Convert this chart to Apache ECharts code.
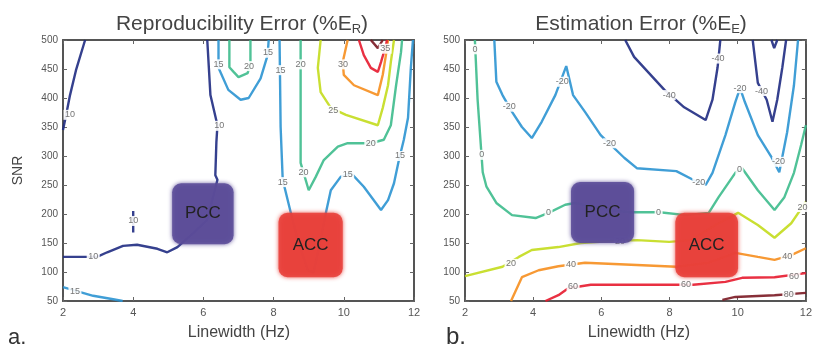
<!DOCTYPE html>
<html>
<head>
<meta charset="utf-8">
<script src="https://cdn.jsdelivr.net/npm/echarts@6/dist/echarts.min.js"></script>
<style>
html,body{margin:0;padding:0;background:#fff}
#chart{width:815px;height:347px}
</style>
</head>
<body>
<div id="chart"></div>
<script>
// contour lines, [linewidth Hz, SNR]
var repNavyA = [[2.63,500],[2.37,448],[2.2,405],[2.09,371],[2,345]];
var repNavyB = [[6.11,500],[6.2,405],[6.4,353],[6.37,324],[6.34,267],[6.4,259],[6.11,190],[5.71,167],[5.26,143],[4.97,134],[4.69,140],[4.11,147],[3.71,145],[3.26,134],[2.97,126],[2,126]];
var repNavyC = [[4,205],[4,168]];
var repBlueA = [[2,74],[2.86,59],[3.43,53],[3.7,50]];
var repBlueB = [[6.43,500],[6.43,452],[6.71,414],[7.06,397],[7.29,400],[7.63,434],[7.83,474],[7.86,500]];
var repBlueC = [[8.17,500],[8.2,350],[8.26,259],[8.49,202],[8.69,155],[8.97,103],[9.14,100],[9.34,155],[9.49,202],[9.63,241],[9.91,264],[10.2,271],[10.57,247],[11.06,207],[11.26,224],[11.43,253],[11.57,293],[11.71,328],[11.83,366],[11.91,452],[11.97,500]];
var repGreenA = [[6.74,500],[6.74,453],[6.86,445],[7,436],[7.26,443],[7.34,460],[7.34,500]];
var repGreenB = [[8.77,500],[8.77,288],[8.83,276],[9,241],[9.2,264],[9.43,293],[9.83,316],[10.11,322],[10.77,322],[11.14,328],[11.34,353],[11.49,422],[11.63,479],[11.66,500]];
var repYellow = [[9.34,500],[9.26,452],[9.34,410],[9.63,383],[10.06,371],[10.97,353],[11.11,383],[11.26,422],[11.34,462],[11.43,500]];
var repOrange = [[10.11,500],[9.97,462],[10,440],[10.29,422],[10.97,405],[11.11,440],[11.2,474],[11.26,500]];
var repRed = [[10.43,500],[10.57,474],[10.77,452],[10.97,445],[11.06,462],[11.2,491],[11.23,500]];
var repDark = [[10.77,500],[10.97,486],[11.11,500]];

var estNavyA = [[6.7,500],[6.96,471],[7.85,414],[8.43,384],[9.06,362],[9.26,397],[9.41,453],[9.49,500]];
var estNavyB = [[10.44,500],[10.59,426],[10.85,397],[11.02,359],[11.16,397],[11.31,453],[11.42,500]];
var estNavyC = [[10.99,500],[11.07,486],[11.16,500]];
var estBlue = [[2.86,500],[2.92,428],[3.1,405],[3.38,376],[3.67,350],[3.96,331],[4.25,359],[4.65,405],[4.97,455],[5.17,405],[5.52,376],[5.98,336],[6.67,297],[7.04,279],[8.2,274],[8.69,259],[9.06,250],[9.26,271],[9.64,336],[9.93,393],[10.07,417],[10.21,393],[10.59,336],[11,297],[11.22,272],[11.45,341],[11.65,422],[11.77,500]];
var estGreen = [[2.29,500],[2.37,397],[2.52,272],[2.63,247],[2.92,219],[3.38,198],[4.07,193],[4.45,202],[4.94,216],[5.23,219],[6.18,207],[6.84,203],[7.71,203],[8.48,198],[9.15,202],[9.44,229],[9.93,271],[10.13,279],[10.59,241],[11.08,207],[11.37,229],[11.65,271],[11.86,319],[12,353]];
var estYellow = [[2,93],[3.1,109],[3.58,126],[3.96,138],[4.74,143],[5.4,150],[6.18,153],[7.04,155],[7.99,152],[8.63,155],[9.35,181],[10.01,202],[10.59,181],[11.08,159],[11.57,184],[12,221]];
var estOrange = [[3.35,50],[3.67,91],[4.16,103],[4.74,110],[5.52,116],[7.04,112],[8.2,109],[9.15,116],[9.93,133],[10.59,126],[11.08,121],[11.57,129],[12,141]];
var estRed = [[4.36,50],[4.74,60],[5.03,72],[5.69,78],[7.04,78],[8.69,78],[9.64,83],[10.13,90],[11.08,91],[12,98]];
var estDark = [[9.55,52],[9.93,57],[11.08,60],[12,64]];

// contour level text, and where it sits on each line
var repContours = [
  {data: repNavyA, level: '10', at: [[2.2,371]]},
  {data: repNavyB, level: '10', at: [[6.45,352],[2.86,126]]},
  {data: repNavyC, level: '10', at: [[4,188]]},
  {data: repBlueA, level: '15', at: [[2.34,66]]},
  {data: repBlueB, level: '15', at: [[6.43,458],[7.84,478]]},
  {data: repBlueC, level: '15', at: [[8.2,448],[8.26,255],[10.11,268],[11.6,300]]},
  {data: repGreenA, level: '20', at: [[7.3,455]]},
  {data: repGreenB, level: '20', at: [[8.77,458],[8.85,272],[10.77,322]]},
  {data: repYellow, level: '25', at: [[9.7,378]]},
  {data: repOrange, level: '30', at: [[9.98,458]]},
  {data: repRed, level: '35', at: [[11.18,485]]},
  {data: repDark, level: '40', at: []}
];
var estContours = [
  {data: estNavyA, level: '-40', at: [[7.99,405],[9.42,468]]},
  {data: estNavyB, level: '-40', at: [[10.7,412]]},
  {data: estNavyC, level: '-40', at: []},
  {data: estBlue, level: '-20', at: [[3.3,385],[4.85,428],[6.24,322],[8.86,255],[10.07,417],[11.2,290]]},
  {data: estGreen, level: '0', at: [[2.29,484],[2.49,302],[4.45,202],[7.68,203],[10.05,276]]},
  {data: estYellow, level: '20', at: [[3.35,114],[6.55,153],[11.9,212]]},
  {data: estOrange, level: '40', at: [[5.11,113],[11.45,126]]},
  {data: estRed, level: '60', at: [[5.17,75],[8.48,78],[11.65,92]]},
  {data: estDark, level: '80', at: [[11.5,61]]}
];

var repBoxes = [{name: 'PCC', r: [5.11,253,6.86,148], color: '#5b4c98'}, {name: 'ACC', r: [8.14,202,9.97,91], color: '#e8403a'}];
var estBoxes = [{name: 'PCC', r: [5.11,255,6.96,150], color: '#5b4c98'}, {name: 'ACC', r: [8.17,202,10.01,91], color: '#e8403a'}];

var repColors = {'10': '#1f2b82', '15': '#2b94d2', '20': '#3dbb8c', '25': '#c3dc1c', '30': '#f68e1e', '35': '#e71a2e', '40': '#7a1822'};
var estColors = {'-40': '#1f2b82', '-20': '#2b94d2', '0': '#3dbb8c', '20': '#c3dc1c', '40': '#f68e1e', '60': '#e71a2e', '80': '#7a1822'};

var chart = echarts.init(document.getElementById('chart'));

function contourSeries(list, gi, colors) {
  return list.map(function (c) {
    return {
      type: 'line',
      xAxisIndex: gi,
      yAxisIndex: gi,
      data: c.data,
      symbol: 'none',
      clip: true,
      lineStyle: {color: colors[c.level], width: 2.4, opacity: 0.9},
      z: 2,
      markPoint: {
        symbol: 'rect',
        symbolSize: [c.level.length > 1 ? 13 : 8, 10],
        itemStyle: {color: '#fff', opacity: 0.9},
        label: {show: true, position: 'inside', formatter: c.level, color: '#666', fontSize: 9, fontFamily: 'Arial'},
        silent: true,
        animation: false,
        data: c.at.map(function (p) { return {coord: p}; })
      }
    };
  });
}

function xAx(gi, pos, labels) {
  return {
    type: 'value', gridIndex: gi, position: pos, min: 2, max: 12, interval: 2,
    axisLine: {lineStyle: {color: '#555', width: 2}},
    axisTick: {inside: true, length: 4, lineStyle: {color: '#666'}},
    splitLine: {show: false},
    axisLabel: {show: labels, color: '#555', fontSize: 11, fontFamily: 'Arial', margin: 6}
  };
}
function yAx(gi, pos, labels, name) {
  return {
    type: 'value', gridIndex: gi, position: pos, min: 50, max: 500, interval: 50,
    name: name, nameLocation: 'middle', nameGap: 38, nameRotate: 90,
    nameTextStyle: {color: '#444', fontSize: 14, fontFamily: 'Arial'},
    axisLine: {show: true, lineStyle: {color: '#555', width: 2}},
    axisTick: {show: true, inside: true, length: 4, lineStyle: {color: '#666'}},
    splitLine: {show: false},
    axisLabel: {show: labels, color: '#555', fontSize: 10, fontFamily: 'Arial', margin: 5}
  };
}

var titleRich = {
  a: {fontSize: 21, fontWeight: 'normal', color: '#444', fontFamily: 'Arial'},
  b: {fontSize: 13, fontWeight: 'normal', color: '#444', fontFamily: 'Arial', padding: [10, 0, 0, 0]}
};

var option = {
  animation: false,
  title: [
    {text: '{a|Reproducibility Error (%E}{b|R}{a|)}', left: 237, top: 8, textAlign: 'center', textStyle: {fontWeight: 'normal', rich: titleRich}},
    {text: '{a|Estimation Error (%E}{b|E}{a|)}', left: 636, top: 8, textAlign: 'center', textStyle: {fontWeight: 'normal', rich: titleRich}}
  ],
  grid: [
    {left: 63, top: 40, width: 351, height: 261},
    {left: 465, top: 40, width: 347, height: 261}
  ],
  xAxis: [xAx(0, 'bottom', true), xAx(1, 'bottom', true), xAx(0, 'top', false), xAx(1, 'top', false)],
  yAxis: [yAx(0, 'left', true, 'SNR'), yAx(1, 'left', true, ''), yAx(0, 'right', false, ''), yAx(1, 'right', false, '')],
  series: contourSeries(repContours, 0, repColors).concat(contourSeries(estContours, 1, estColors))
};
chart.setOption(option);

function boxGraphics(boxes, gi) {
  var out = [];
  boxes.forEach(function (b) {
    var p1 = chart.convertToPixel({gridIndex: gi}, [b.r[0], b.r[1]]);
    var p2 = chart.convertToPixel({gridIndex: gi}, [b.r[2], b.r[3]]);
    out.push({
      type: 'rect', z: 50,
      shape: {x: p1[0], y: p1[1], width: p2[0] - p1[0], height: p2[1] - p1[1], r: 9},
      style: {fill: b.color, opacity: 0.88, shadowBlur: 4, shadowColor: b.color}
    });
    out.push({
      type: 'text', z: 51,
      x: (p1[0] + p2[0]) / 2, y: (p1[1] + p2[1]) / 2,
      style: {text: b.name, fill: '#222', font: '17px Arial', align: 'center', verticalAlign: 'middle'}
    });
  });
  return out;
}

var texts = [
  {type: 'text', x: 239, y: 333, style: {text: 'Linewidth (Hz)', fill: '#444', font: '16px Arial', align: 'center', verticalAlign: 'middle'}},
  {type: 'text', x: 639, y: 333, style: {text: 'Linewidth (Hz)', fill: '#444', font: '16px Arial', align: 'center', verticalAlign: 'middle'}},
  {type: 'text', x: 8, y: 327, style: {text: 'a.', fill: '#333', font: '22px Arial'}},
  {type: 'text', x: 446, y: 325, style: {text: 'b.', fill: '#333', font: '24px Arial'}}
];

chart.setOption({graphic: boxGraphics(repBoxes, 0).concat(boxGraphics(estBoxes, 1)).concat(texts)});
</script>
</body>
</html>
